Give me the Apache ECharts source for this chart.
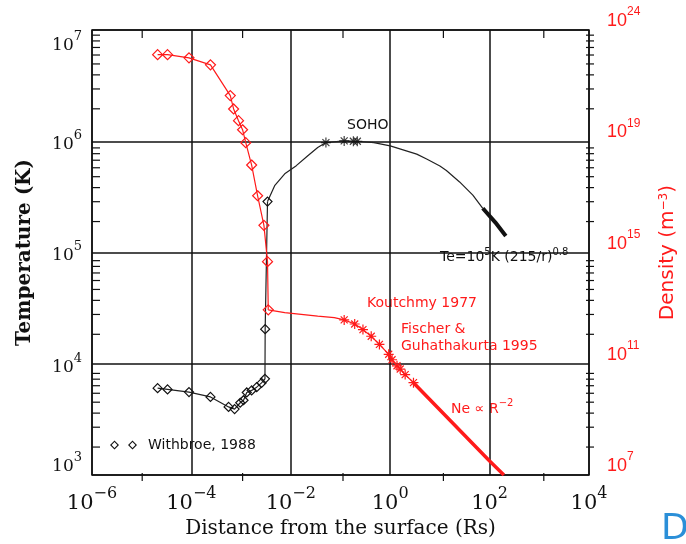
<!DOCTYPE html>
<html><head><meta charset="utf-8">
<script src="https://cdn.jsdelivr.net/npm/echarts@6/dist/echarts.min.js"></script>
<style>html,body{margin:0;padding:0;background:#fff}#c{width:686px;height:544px}</style>
</head><body><div id="c"></div>
<script>
// ---- data ----
// Temperature, Withbroe 1988 model (diamonds)
const withbroeX = [2.09e-5, 3.31e-5, 8.95e-5, 2.42e-4, 5.6e-4, 7.4e-4, 9.6e-4, 1.12e-3, 1.30e-3, 1.63e-3, 2.06e-3, 2.58e-3, 3.02e-3, 3.05e-3, 3.40e-3];
const withbroeT = [6040, 5890, 5570, 5040, 4100, 3920, 4470, 4710, 5530, 5770, 6170, 6740, 7330, 20500, 287000];
// Temperature, coronal curve
const coronaX = [3.40e-3, 4.78e-3, 7.55e-3, 0.0129, 0.022, 0.0348, 0.0509, 0.1186, 0.1816, 0.218, 0.469, 1.0, 3.42, 5.41, 10, 13.5, 24.9, 46.0, 72.9];
const coronaT = [2.87e5, 4.02e5, 5.10e5, 6.04e5, 7.41e5, 8.79e5, 9.73e5, 1.007e6, 1.0e6, 1.0e6, 9.73e5, 9.08e5, 7.67e5, 6.93e5, 6.0e5, 5.46e5, 4.31e5, 3.28e5, 2.50e5];
// Te = 1e5 K (215/r)^0.8 (thick)
const powerX = [72.9, 130, 212];
const powerT = [2.50e5, 1.87e5, 1.41e5];
// SOHO points
const sohoX = [0.0509, 0.1186, 0.1816, 0.218];
const sohoT = [9.73e5, 1.007e6, 1.0e6, 1.0e6];
// Density, model (diamonds)
const neModelX = [2.09e-5, 3.31e-5, 8.95e-5, 2.42e-4, 6.06e-4, 7.07e-4, 8.87e-4, 1.07e-3, 1.24e-3, 1.63e-3, 2.15e-3, 2.88e-3, 3.40e-3, 3.52e-3];
const neModelD = [1.30e22, 1.30e22, 1.0e22, 5.6e21, 4.4e20, 1.45e20, 5.5e19, 2.6e19, 8.9e18, 1.4e18, 1.1e17, 9.5e15, 4.7e14, 8.7e12];
// Density, connecting curve
const neLinkX = [3.52e-3, 7.55e-3, 0.0348, 0.075, 0.1186];
const neLinkD = [8.7e12, 6.9e12, 5.2e12, 4.6e12, 3.8e12];
// Density, Koutchmy 1977 / Fischer & Guhathakurta 1995 (stars)
const koutX = [0.1186, 0.193, 0.283, 0.415, 0.607, 0.933, 1.09, 1.37, 1.59, 2.0, 2.94];
const koutD = [3.8e12, 2.7e12, 1.7e12, 9.8e11, 5.0e11, 2.2e11, 1.4e11, 8.5e10, 6.5e10, 4.1e10, 2.1e10];
// Density, Ne ~ R^-2 (thick)
const r2X = [2.94, 100, 194];
const r2D = [2.1e10, 3.2e7, 1.0e7];
// Tick labels of the density axis (as printed)
const densityTickText = ['7', '11', '15', '19', '24'];
// Minor tick values
const tempMinorTicks = [];
for (let d = 3; d < 7; d++) for (let k = 2; k <= 9; k++) tempMinorTicks.push(k * Math.pow(10, d));
const xMinorTicks = [1e-5, 1e-3, 1e-1, 1e1, 1e3];

// ---- helpers ----
const X_MIN = 1e-6, X_MAX = 1e4, T_MIN = 1e3, T_MAX = 1e7;
const GRID = {left: 92, right: 92, top: 30, bottom: 63};
const pairs = (xs, ys) => xs.map((x, i) => [x, ys[i]]);
function supLabel(v) {
  const e = Math.round(Math.log10(v));
  return '{b|10}{e|' + (e < 0 ? '\u2212' + (-e) : e) + '}';
}

const INK = '#111';
const RED = '#ff1a1a';
const TICK = 8;
const ASTER = 'path://M5,0L5,10M0,5L10,5M1.5,1.5L8.5,8.5M1.5,8.5L8.5,1.5';
const TWO_DIAMONDS = 'path://M4.5,0L9,4.5L4.5,9L0,4.5ZM4.5,1.6L1.6,4.5L4.5,7.4L7.4,4.5ZM22.5,0L27,4.5L22.5,9L18,4.5ZM22.5,1.6L19.6,4.5L22.5,7.4L25.4,4.5Z';

const serifRichY = {
  b: {fontFamily: 'DejaVu Serif', fontSize: 17, lineHeight: 24, verticalAlign: 'bottom', color: INK},
  e: {fontFamily: 'DejaVu Serif', fontSize: 13, lineHeight: 14, verticalAlign: 'top', color: INK}
};
const serifRichX = {
  b: {fontFamily: 'DejaVu Serif', fontSize: 21, lineHeight: 28, verticalAlign: 'bottom', color: INK},
  e: {fontFamily: 'DejaVu Serif', fontSize: 16, lineHeight: 16, verticalAlign: 'top', color: INK}
};
const redRich = {
  b: {fontFamily: 'Liberation Sans', fontSize: 18, lineHeight: 24, verticalAlign: 'bottom', color: RED},
  e: {fontFamily: 'Liberation Sans', fontSize: 12, lineHeight: 13, verticalAlign: 'top', color: RED}
};

const textGraphics = [
  {type: 'text', x: 347, y: 125, silent: true, style: {text: 'SOHO', font: '14px "DejaVu Sans"', fill: INK, verticalAlign: 'middle'}},
  {type: 'text', x: 440, y: 256, silent: true, style: {
    text: '{n|Te=10}{s|5}{n|K (215/r)}{s|0.8}', verticalAlign: 'middle',
    rich: {
      n: {fontFamily: 'DejaVu Sans', fontSize: 14, lineHeight: 17, verticalAlign: 'bottom', fill: INK},
      s: {fontFamily: 'DejaVu Sans', fontSize: 10, lineHeight: 11, verticalAlign: 'top', fill: INK}
    }}},
  {type: 'text', x: 367, y: 303, silent: true, style: {text: 'Koutchmy 1977', font: '14px "DejaVu Sans"', fill: RED, verticalAlign: 'middle'}},
  {type: 'text', x: 401, y: 329, silent: true, style: {text: 'Fischer &', font: '14px "DejaVu Sans"', fill: RED, verticalAlign: 'middle'}},
  {type: 'text', x: 401, y: 346, silent: true, style: {text: 'Guhathakurta 1995', font: '14px "DejaVu Sans"', fill: RED, verticalAlign: 'middle'}},
  {type: 'text', x: 451, y: 407, silent: true, style: {
    text: '{n|Ne \u221d R}{s|\u22122}', verticalAlign: 'middle',
    rich: {
      n: {fontFamily: 'DejaVu Sans', fontSize: 14, lineHeight: 18, verticalAlign: 'bottom', fill: RED},
      s: {fontFamily: 'DejaVu Sans', fontSize: 10, lineHeight: 11, verticalAlign: 'top', fill: RED}
    }}},
  {type: 'text', x: 661, y: 512, silent: true, style: {text: 'D', font: '36px "DejaVu Sans"', fill: '#2b8fd8', verticalAlign: 'top'}}
];

const chart = echarts.init(document.getElementById('c'), null, {renderer: 'canvas'});

// Step 1: same grid and scales, used only to place the minor ticks through the library's scales
const tickGraphics = [];
try {
  chart.setOption({
    animation: false,
    grid: GRID,
    xAxis: {type: 'log', min: X_MIN, max: X_MAX, interval: 2, axisLine: {onZero: false}},
    yAxis: {type: 'log', min: T_MIN, max: T_MAX, interval: 1, axisLine: {onZero: false}},
    series: [{type: 'line', data: pairs(withbroeX, withbroeT)}]
  });
  const seg = (x1, y1, x2, y2) => ({type: 'line', silent: true, z: 100,
    shape: {x1: x1, y1: y1, x2: x2, y2: y2}, style: {stroke: INK, lineWidth: 1.2}});
  tempMinorTicks.forEach(v => {
    const l = chart.convertToPixel({gridIndex: 0}, [X_MIN, v]);
    const r = chart.convertToPixel({gridIndex: 0}, [X_MAX, v]);
    tickGraphics.push(seg(l[0], l[1], l[0] + TICK, l[1]));
    tickGraphics.push(seg(r[0], r[1], r[0] - TICK, r[1]));
  });
  xMinorTicks.forEach(v => {
    const b = chart.convertToPixel({gridIndex: 0}, [v, T_MIN]);
    const t = chart.convertToPixel({gridIndex: 0}, [v, T_MAX]);
    tickGraphics.push(seg(b[0], b[1], b[0], b[1] - TICK));
    tickGraphics.push(seg(t[0], t[1], t[0], t[1] + TICK));
  });
} catch (e) { /* ticks are decoration only */ }

// Step 2: the full chart
const option = {
  animation: false,
  backgroundColor: '#fff',
  grid: Object.assign({show: true, borderColor: INK, borderWidth: 1.5, containLabel: false}, GRID),
  legend: {
    data: ['Withbroe, 1988'], left: 110, top: 438, padding: 0,
    icon: TWO_DIAMONDS, itemWidth: 27, itemHeight: 9, selectedMode: false,
    itemStyle: {color: INK, borderWidth: 0},
    textStyle: {fontFamily: 'DejaVu Sans', fontSize: 14, color: INK, padding: [0, 0, 0, 6]}
  },
  xAxis: [
    {
      type: 'log', min: X_MIN, max: X_MAX, interval: 2, position: 'bottom',
      axisLine: {show: false, onZero: false}, axisTick: {show: false},
      splitLine: {show: true, lineStyle: {color: INK, width: 1.5}},
      axisLabel: {formatter: supLabel, margin: 11, rich: serifRichX},
      name: 'Distance from the surface (Rs)', nameLocation: 'middle', nameGap: 37,
      nameTextStyle: {fontFamily: 'DejaVu Serif', fontSize: 20, color: INK}
    }
  ],
  yAxis: [
    {
      type: 'log', min: T_MIN, max: T_MAX, interval: 1, position: 'left',
      axisLine: {show: false, onZero: false}, axisTick: {show: false},
      splitLine: {show: true, lineStyle: {color: INK, width: 1.5}},
      axisLabel: {formatter: supLabel, margin: 10, verticalAlignMinLabel: 'bottom', verticalAlignMaxLabel: 'top', rich: serifRichY},
      name: 'Temperature (K)', nameLocation: 'middle', nameGap: 57, nameRotate: 90,
      nameTextStyle: {fontFamily: 'DejaVu Serif', fontSize: 20, fontWeight: 'bold', color: INK}
    },
    {
      type: 'log', min: 1e7, max: 1e23, position: 'right',
      axisLine: {show: false, onZero: false}, axisTick: {show: false},
      axisLabel: {show: false}, splitLine: {show: false}
    },
    {
      type: 'value', min: 0, max: 16, interval: 4, position: 'right',
      axisLine: {show: false, onZero: false}, axisTick: {show: false}, splitLine: {show: false},
      axisLabel: {
        formatter: v => '{b|10}{e|' + densityTickText[Math.round(v / 4)] + '}',
        margin: 18, verticalAlign: 'bottom', rich: redRich
      },
      name: 'Density (m{s|\u22123})', nameLocation: 'middle', nameGap: 69, nameRotate: 90,
      nameTextStyle: {
        fontFamily: 'DejaVu Sans', fontSize: 20, color: RED,
        rich: {s: {fontFamily: 'DejaVu Sans', fontSize: 12, lineHeight: 11, verticalAlign: 'top', color: RED}}
      }
    }
  ],
  graphic: textGraphics.concat(tickGraphics),
  series: [
    {
      name: 'Withbroe, 1988', type: 'line', xAxisIndex: 0, yAxisIndex: 0,
      data: pairs(withbroeX, withbroeT),
      symbol: 'diamond', symbolSize: 9,
      itemStyle: {color: 'rgba(0,0,0,0)', borderColor: INK, borderWidth: 1.2},
      lineStyle: {color: '#222', width: 1.2}, z: 3
    },
    {
      name: 'Corona T', type: 'line', xAxisIndex: 0, yAxisIndex: 0,
      data: pairs(coronaX, coronaT), symbol: 'none',
      lineStyle: {color: '#222', width: 1.2}, z: 3
    },
    {
      name: 'Te power law', type: 'line', xAxisIndex: 0, yAxisIndex: 0,
      data: pairs(powerX, powerT), symbol: 'none',
      lineStyle: {color: INK, width: 4}, z: 3
    },
    {
      name: 'SOHO', type: 'scatter', xAxisIndex: 0, yAxisIndex: 0,
      data: pairs(sohoX, sohoT), symbol: ASTER, symbolSize: 10,
      itemStyle: {color: 'rgba(0,0,0,0)', borderColor: INK, borderWidth: 1.2}, z: 4
    },
    {
      name: 'Ne model', type: 'line', xAxisIndex: 0, yAxisIndex: 1,
      data: pairs(neModelX, neModelD),
      symbol: 'diamond', symbolSize: 10,
      itemStyle: {color: 'rgba(0,0,0,0)', borderColor: RED, borderWidth: 1.2},
      lineStyle: {color: RED, width: 1.2}, z: 5
    },
    {
      name: 'Ne link', type: 'line', xAxisIndex: 0, yAxisIndex: 1,
      data: pairs(neLinkX, neLinkD), symbol: 'none',
      lineStyle: {color: RED, width: 1.2}, z: 5
    },
    {
      name: 'Koutchmy', type: 'line', xAxisIndex: 0, yAxisIndex: 1,
      data: pairs(koutX, koutD), symbol: ASTER, symbolSize: 10,
      itemStyle: {color: 'rgba(0,0,0,0)', borderColor: RED, borderWidth: 1.2},
      lineStyle: {color: RED, width: 1.2}, z: 5
    },
    {
      name: 'Ne R-2', type: 'line', xAxisIndex: 0, yAxisIndex: 1,
      data: pairs(r2X, r2D), symbol: 'none',
      lineStyle: {color: RED, width: 3.5}, z: 5
    }
  ]
};
chart.setOption(option, true);
</script>
</body></html>
